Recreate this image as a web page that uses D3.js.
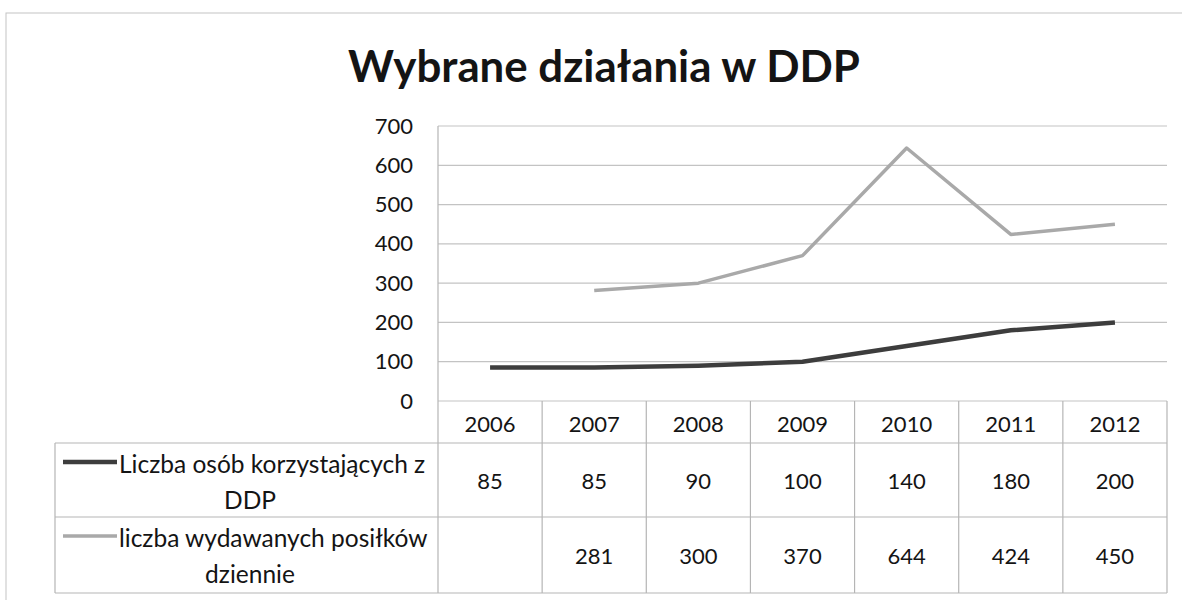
<!DOCTYPE html>
<html>
<head>
<meta charset="utf-8">
<script src="https://cdn.jsdelivr.net/npm/d3@7"></script>
<style>
  body { margin: 0; background: #fff; }
  text { font-family: Lato, "Open Sans", sans-serif; fill: #141414; }
</style>
</head>
<body>
<svg width="1182" height="600"></svg>
<script>
// chart data
var years = ["2006", "2007", "2008", "2009", "2010", "2011", "2012"];
var seriesLines = [["Liczba osób korzystających z", "DDP"], ["liczba wydawanych posiłków", "dziennie"]];
var osoby = [85, 85, 90, 100, 140, 180, 200];
var posilki = [null, 281, 300, 370, 644, 424, 450];
var yTicks = [0, 100, 200, 300, 400, 500, 600, 700];
var colors = ["#3d3d3d", "#a9a9a9"];
var widths = [4.5, 3.5];

var svg = d3.select("svg"),
    margin = {top: 126, left: 438, right: 15},
    width = 1167 - margin.left,
    height = 401 - margin.top;

// outer frame
svg.append("rect")
    .attr("x", 6).attr("y", 13)
    .attr("width", 1190).attr("height", 600)
    .attr("fill", "none").attr("stroke", "#c4c4c4").attr("stroke-width", 1);

// title, scaled to the width seen in the picture
var title = svg.append("text")
    .attr("x", 604).attr("y", 82)
    .attr("text-anchor", "middle")
    .style("font-weight", "bold")
    .style("font-size", "40px")
    .text("Wybrane działania w DDP");
var tw = title.node().getComputedTextLength();
title.style("font-size", (40 * 512 / tw) + "px");

var x = d3.scaleBand().domain(years).range([0, width]),
    y = d3.scaleLinear().domain([0, 700]).range([height, 0]);

var g = svg.append("g")
    .attr("transform", "translate(" + margin.left + "," + margin.top + ")");

// grid
g.selectAll(".grid")
    .data(yTicks)
    .enter().append("line")
    .attr("class", "grid")
    .attr("x1", 0).attr("x2", width)
    .attr("y1", function (d) { return y(d); })
    .attr("y2", function (d) { return y(d); })
    .attr("stroke", "#c3c3c3").attr("stroke-width", 1.2);

// y axis
var yAxis = g.append("g")
    .call(d3.axisLeft(y).tickValues(yTicks).tickSize(0).tickPadding(25));
yAxis.select(".domain").remove();
yAxis.selectAll("text")
    .style("font-size", "22px")
    .attr("fill", "#141414")
    .style("font-family", "Lato, sans-serif");

// table
var rowTop = 443, rowH = [74, 76], tableBottom = 593, legendLeft = 55;
var tbl = svg.append("g");
var lineCol = "#b5b5b5";

// vertical lines: axis line and column dividers
years.forEach(function (yr, i) {
    tbl.append("line")
        .attr("x1", margin.left + x(yr)).attr("x2", margin.left + x(yr))
        .attr("y1", i === 0 ? margin.top : 401).attr("y2", tableBottom)
        .attr("stroke", lineCol).attr("stroke-width", 1.2);
});
tbl.append("line")
    .attr("x1", margin.left + width).attr("x2", margin.left + width)
    .attr("y1", 401).attr("y2", tableBottom)
    .attr("stroke", lineCol).attr("stroke-width", 1.2);
tbl.append("line")
    .attr("x1", legendLeft).attr("x2", legendLeft)
    .attr("y1", rowTop).attr("y2", tableBottom)
    .attr("stroke", lineCol).attr("stroke-width", 1.2);

// horizontal lines
[rowTop, rowTop + rowH[0], tableBottom].forEach(function (yy) {
    tbl.append("line")
        .attr("x1", legendLeft).attr("x2", margin.left + width)
        .attr("y1", yy).attr("y2", yy)
        .attr("stroke", lineCol).attr("stroke-width", 1.2);
});

// header row years
tbl.selectAll(".yr")
    .data(years)
    .enter().append("text")
    .attr("class", "yr")
    .attr("x", function (d) { return margin.left + x(d) + x.bandwidth() / 2; })
    .attr("y", 424)
    .attr("dy", "0.35em")
    .attr("text-anchor", "middle")
    .style("font-size", "22px")
    .text(function (d) { return d; });

// value rows
var allSeries = [osoby, posilki];
allSeries.forEach(function (vals, s) {
    var cy = s === 0 ? rowTop + rowH[0] / 2 : rowTop + rowH[0] + rowH[1] / 2;
    tbl.selectAll(".v" + s)
        .data(vals)
        .enter().append("text")
        .attr("x", function (d, i) { return margin.left + x(years[i]) + x.bandwidth() / 2; })
        .attr("y", cy + 1)
        .attr("dy", "0.35em")
        .attr("text-anchor", "middle")
        .style("font-size", "22px")
        .text(function (d) { return d == null ? "" : d; });

    // legend key + label
    var top = s === 0 ? rowTop : rowTop + rowH[0];
    tbl.append("line")
        .attr("x1", 63).attr("x2", 117)
        .attr("y1", top + 19).attr("y2", top + 19)
        .attr("stroke", colors[s]).attr("stroke-width", widths[s]);
    tbl.append("text")
        .attr("x", 119).attr("y", top + 21)
        .attr("dy", "0.35em")
        .style("font-size", "24.5px")
        .text(seriesLines[s][0]);
    tbl.append("text")
        .attr("x", 250).attr("y", top + 57)
        .attr("dy", "0.35em")
        .attr("text-anchor", "middle")
        .style("font-size", "24.5px")
        .text(seriesLines[s][1]);
});

// lines
var line = d3.line()
    .defined(function (d) { return d != null; })
    .x(function (d, i) { return x(years[i]) + x.bandwidth() / 2; })
    .y(function (d) { return y(d); });

allSeries.forEach(function (vals, s) {
    g.append("path")
        .datum(vals)
        .attr("fill", "none")
        .attr("stroke", colors[s])
        .attr("stroke-width", widths[s])
        .attr("stroke-linejoin", "round")
        .attr("d", line);
});
</script>
</body>
</html>
